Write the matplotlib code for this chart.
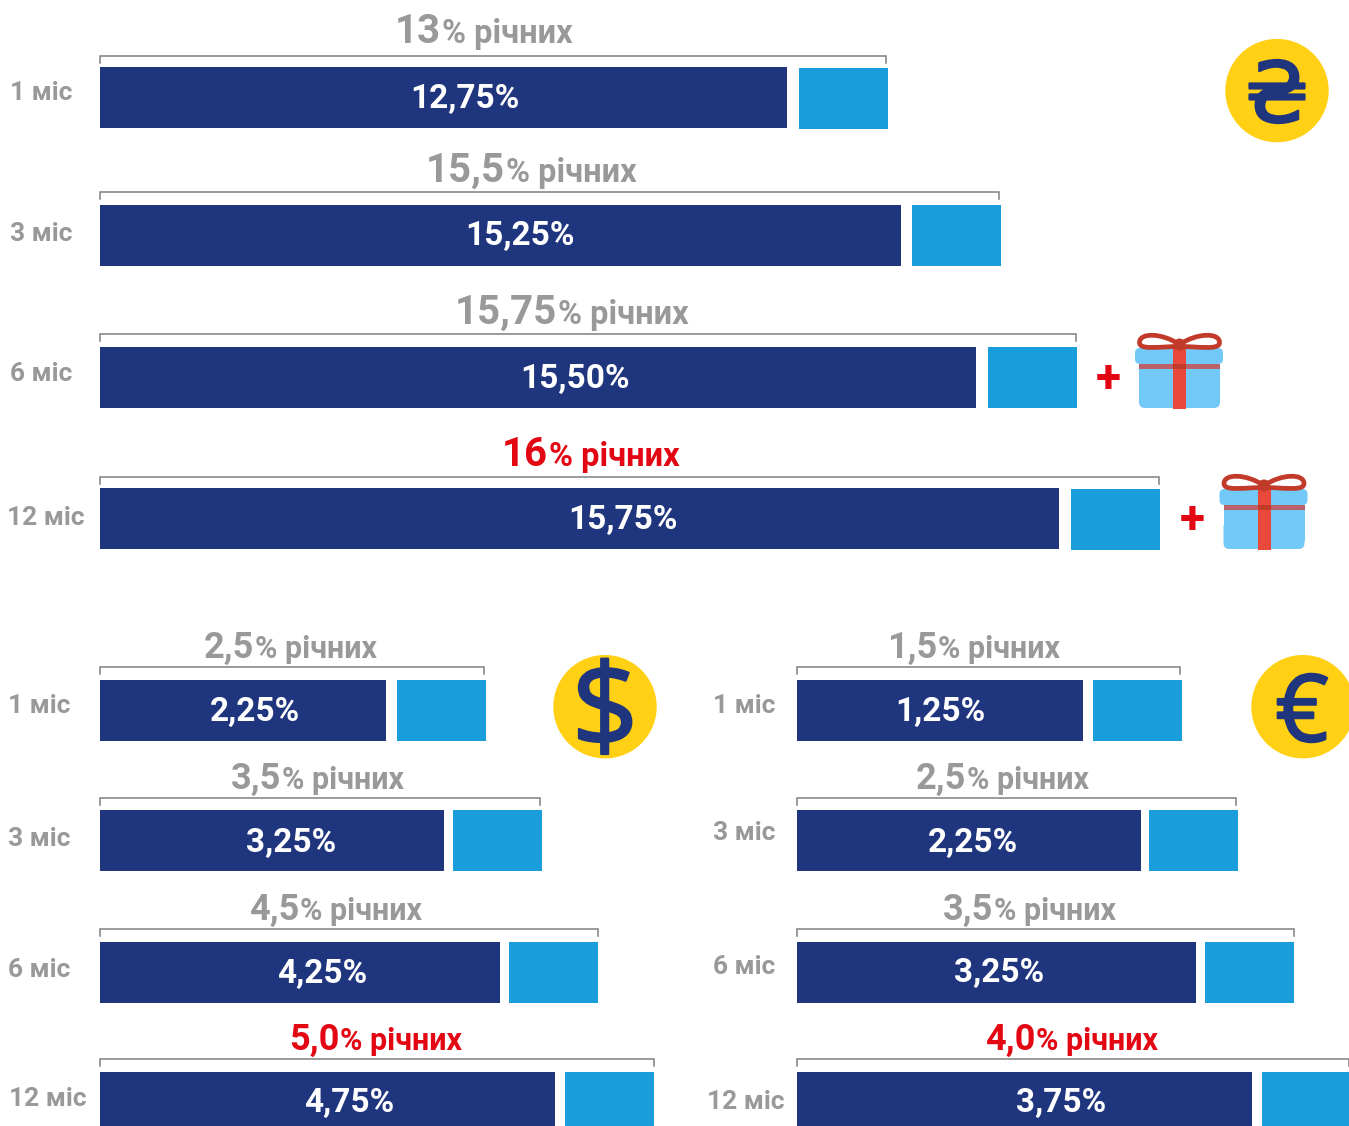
import matplotlib
matplotlib.use("Agg")
import matplotlib.pyplot as plt
import matplotlib.patheffects as pe
from matplotlib.patches import Circle, FancyBboxPatch, PathPatch, Rectangle
from matplotlib.path import Path

plt.rcParams['font.family'] = ['Roboto', 'DejaVu Sans']

# values
terms = ["1 міс", "3 міс", "6 міс", "12 міс"]

uah_rates = ["13", "15,5", "15,75", "16"]
uah_base = ["12,75%", "15,25%", "15,50%", "15,75%"]
uah_base_len = [687, 801, 876, 959]
uah_bonus_len = [89, 89, 89, 89]

usd_rates = ["2,5", "3,5", "4,5", "5,0"]
usd_base = ["2,25%", "3,25%", "4,25%", "4,75%"]
usd_base_len = [286, 344, 400, 455]
usd_bonus_len = [89, 89, 89, 89]

eur_rates = ["1,5", "2,5", "3,5", "4,0"]
eur_base = ["1,25%", "2,25%", "3,25%", "3,75%"]
eur_base_len = [286, 344, 399, 455]
eur_bonus_len = [89, 89, 89, 89]

NAVY = "#1f357e"
BLUE = "#1a9edb"
GREY = "#999999"
RED = "#e30613"
YELLOW = "#ffd014"

fig = plt.figure(figsize=(13.49, 11.26), dpi=100)
ax = fig.add_axes([0, 0, 1, 1])
ax.set_xlim(0, 1349)
ax.set_ylim(1126, 0)
ax.axis("off")


def rate_title(cx, base_y, rate, color, big, small):
    # big number and small "% річних" sit on one baseline, centred as a pair
    renderer = fig.canvas.get_renderer()
    t1 = ax.text(0, base_y, rate, fontsize=big, fontweight="bold", color=color, va="baseline", ha="left")
    t2 = ax.text(0, base_y, "% річних", fontsize=small, fontweight="bold", color=color, va="baseline", ha="left")
    w1 = t1.get_window_extent(renderer).width
    w2 = t2.get_window_extent(renderer).width
    left = cx - (w1 + w2) / 2
    t1.set_x(left)
    t2.set_x(left + w1 + 1)


def draw_panel(x0, tops, bonus_dy, rates, base, base_len, bonus_len, gaps, label_x, label_y, term_x, term_y,
               title_x, title_y, bracket_y, bracket_end, big, small):
    for i in range(4):
        ax.barh(tops[i] + 30.5, base_len[i], left=x0, height=61, color=NAVY)
        ax.barh(tops[i] + bonus_dy[i] + 30.5, bonus_len[i], left=x0 + base_len[i] + gaps[i], height=61, color=BLUE)
        ax.text(label_x[i], label_y[i], base[i], color="white", fontsize=24, fontweight="bold",
                ha="center", va="center")
        ax.text(term_x[i], term_y[i], terms[i], color=GREY, fontsize=19, fontweight="bold",
                ha="left", va="center")
        color = RED if i == 3 else GREY
        rate_title(title_x[i], title_y[i], rates[i], color, big, small)
        by = bracket_y[i]
        ax.plot([x0, x0, bracket_end[i], bracket_end[i]], [by + 7, by, by, by + 7],
                color="#808080", lw=1.1, solid_joinstyle="miter")


def draw_gift(dx, dy):
    ax.add_patch(Rectangle((1139 + dx, 364 + dy), 81, 36, fc="#72c9f7", lw=0))
    ax.add_patch(FancyBboxPatch((1139 + dx, 380 + dy), 81, 28, boxstyle="round,pad=0,rounding_size=6",
                                fc="#72c9f7", lw=0))
    ax.add_patch(FancyBboxPatch((1135 + dx, 348 + dy), 88, 16, boxstyle="round,pad=0,rounding_size=5",
                                fc="#72c9f7", lw=0))
    ax.add_patch(Rectangle((1139 + dx, 364 + dy), 81, 5, fc="#bb6169", lw=0))
    ax.add_patch(Rectangle((1173 + dx, 348 + dy), 13, 61, fc="#e8493a", lw=0))
    ax.add_patch(Rectangle((1173 + dx, 364 + dy), 13, 5, fc="#c23a2a", lw=0))
    # bow loops
    for side in (-1, 1):
        cx = 1179.5 + dx
        cy = 344.5 + dy
        verts = [(cx, cy), (cx + side * 18, cy - 12), (cx + side * 40, cy - 12), (cx + side * 40, cy - 2),
                 (cx + side * 40, cy + 6), (cx + side * 20, cy + 2), (cx, cy + 2)]
        codes = [Path.MOVETO, Path.CURVE4, Path.CURVE4, Path.CURVE4, Path.CURVE4, Path.CURVE4, Path.CURVE4]
        ax.add_patch(PathPatch(Path(verts, codes), fc="none", ec="#c23a2a", lw=3.4))
    ax.add_patch(Circle((1179.5 + dx, 344.5 + dy), 6, fc="#c23a2a", lw=0))
    ax.text(1108 + dx, 379 + dy, "+", color=RED, fontsize=33, fontweight="bold", ha="center", va="center")


def coin(cx, cy, glyph, size, dx=0, dy=0):
    ax.add_patch(Circle((cx, cy), 51.7, fc=YELLOW, lw=0))
    ax.text(cx + dx, cy + dy, glyph, color=NAVY, fontsize=size, ha="center", va="center",
            family=["Open Sans", "DejaVu Sans"],
            path_effects=[pe.withStroke(linewidth=1.6, foreground=NAVY)])


draw_panel(100, [67, 205, 347, 488], [1, 0, 0, 1], uah_rates, uah_base, uah_base_len, uah_bonus_len, [12, 11, 12, 12],
           [465, 520, 575, 623], [99, 236, 379, 520], [10, 10, 10, 7], [93, 234, 374, 518],
           [483, 531, 571, 590], [43, 182, 324, 466], [56, 192, 334, 477], [886, 999, 1076, 1159], 29, 23.5)
draw_panel(100, [680, 810, 942, 1072], [0, 0, 0, 0], usd_rates, usd_base, usd_base_len, usd_bonus_len, [11, 9, 9, 10],
           [255, 291, 322, 349], [712, 843, 974, 1103], [8, 8, 8, 9], [706, 839, 970, 1099],
           [290, 317, 335, 375], [658, 789, 920, 1050], [667, 798, 929, 1059], [484, 540, 598, 654], 26, 22)
draw_panel(797, [680, 810, 942, 1072], [0, 0, 0, 0], eur_rates, eur_base, eur_base_len, eur_bonus_len, [10, 8, 9, 10],
           [940, 973, 999, 1061], [712, 843, 973, 1103], [713, 713, 713, 707], [706, 833, 967, 1102],
           [973, 1002, 1029, 1071], [658, 789, 920, 1050], [667, 798, 929, 1059], [1180, 1236, 1294, 1349], 26, 22)

draw_gift(0, 0)
draw_gift(84.5, 141)

coin(1277, 90.6, "₴", 60, dy=10)
coin(605, 706.7, "$", 84, dy=10)
coin(1303, 706.7, "€", 67, dx=-1, dy=10)

fig.savefig("out.png", dpi=100)
